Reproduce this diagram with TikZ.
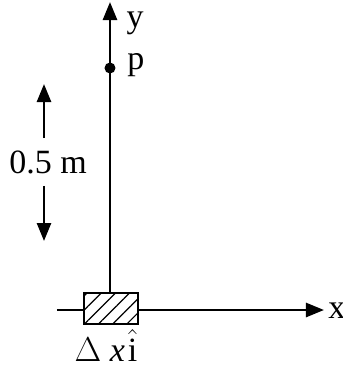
\documentclass[tikz,border=0pt]{standalone}
\usepackage{fontspec}
\setmainfont{Liberation Serif}
\usetikzlibrary{arrows.meta,patterns.meta}
\tikzset{
  axis/.style={line width=1.3pt,-{Triangle[length=9pt,width=7pt]}},
  lbl/.style={font=\fontsize{17}{20}\selectfont,inner sep=1pt},
  strip/.style={draw,line width=1pt,minimum width=27pt,minimum height=15.5pt,inner sep=0pt,
    preaction={fill=white},
    pattern={Lines[angle=45,distance=5pt,line width=0.6pt]}}
}

\begin{document}
\begin{tikzpicture}[x=0.5pt,y=-0.5pt]
        \useasboundingbox (0,0) rectangle (343,366);
        \coordinate (O) at (110,310);
        \coordinate (Y) at (110,2);
        \coordinate (X) at (324,310);
        \coordinate (L) at (57,310);
        \coordinate (dimtop) at (44,84);
        \coordinate (dimbot) at (44,241);
        \draw[axis] (O) to (Y);
        \draw[axis] (L) to (X);
        \node[strip] (S) at (111,308) {};
        \node[lbl] (ylbl) at (135,23) {y};
        \node[lbl] (xlbl) at (337,311) {x};
        \node[circle,fill,inner sep=0pt,minimum size=5.5pt] (P) at (110,68) {};
        \node[lbl] (plbl) at (136,65) {p};
        \node[lbl,inner ysep=6pt] (dimlbl) at (48,162) {0.5 m};
        \draw[axis] (dimlbl.north -| dimtop) to (dimtop);
        \draw[axis] (dimlbl.south -| dimbot) to (dimbot);
        \node[lbl,anchor=base] (slbl) at (106,361) {$\Delta$ \textit{x}\kern1.5pt$\hat{\textrm{i}}$};
      \end{tikzpicture}
\end{document}
